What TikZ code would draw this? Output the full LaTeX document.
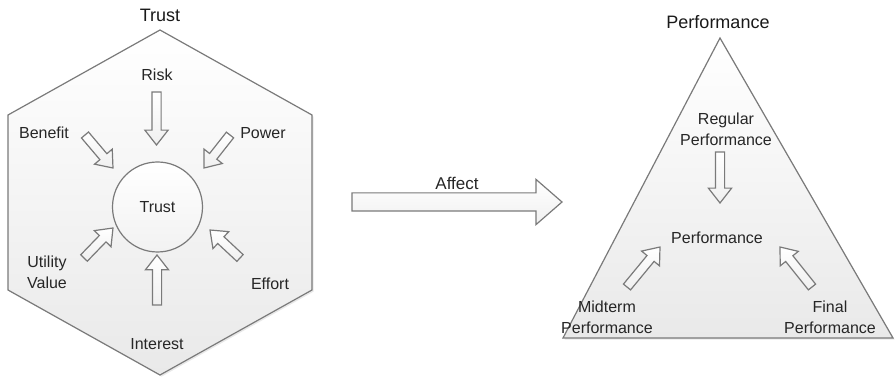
\documentclass[tikz,border=0pt]{standalone}
\usepackage{fontspec}
\setmainfont{Liberation Sans}
\usetikzlibrary{shapes.arrows, calc, shadows}
\definecolor{cline}{HTML}{7A7A7A}
\definecolor{cfill}{HTML}{E9E9E9}
\tikzset{
  every picture/.style={line width=0.6pt},
  panel/.style={draw=cline, top color=white, bottom color=cfill, drop shadow={opacity=0.18, shadow xshift=0.8pt, shadow yshift=-0.8pt}},
  txt/.style={font=\fontsize{8}{10.5}\selectfont, align=center, text=black!85},
  heading/.style={font=\fontsize{9}{11}\selectfont, text=black!90},
  fatarrow/.style={single arrow, draw=cline, top color=white, bottom color=cfill!70, inner xsep=0pt, inner ysep=2pt, outer sep=0pt, single arrow head extend=3.5pt, single arrow tip angle=76},
  bigarrow/.style={fatarrow, inner ysep=4.25pt, single arrow head extend=6.75pt, single arrow tip angle=82},
  push/.style={to path={let \p1=($(\tikztotarget)-(\tikztostart)$), \n1={atan2(\y1,\x1)}, \n2={veclen(\x1,\y1)} in node[fatarrow, #1, anchor=tail, rotate=\n1, minimum height=\n2] at (\tikztostart) {}}},
  push/.default={},
}
\begin{document}
\begin{tikzpicture}[x=0.5pt, y=-0.5pt]
  \useasboundingbox (0,0) rectangle (895,379);
  % trust side
  \draw[panel] (8,115) -- (160,30) -- (312,115) -- (312,290) -- (160,375) -- (8,290) -- cycle;
  \node[heading] (trusttitle) at (160,15) {Trust};
  \node[circle, draw=cline, top color=white, bottom color=cfill!60, minimum size=45pt, txt] (trust) at (157.5,207) {Trust};
  \node[txt] (risk) at (157,75) {Risk};
  \node[txt] (benefit) at (44,133) {Benefit};
  \node[txt] (power) at (263,133) {Power};
  \node[txt] (utility) at (47,272) {Utility\\Value};
  \node[txt] (effort) at (270,284) {Effort};
  \node[txt] (interest) at (157,344) {Interest};
  \coordinate (riskA) at (156.5,92);   \coordinate (riskB) at (156.5,145);
  \coordinate (interestA) at (157,305); \coordinate (interestB) at (157,255);
  \coordinate (benefitA) at (85,135);  \coordinate (benefitB) at (113,168);
  \coordinate (powerA) at (230,135);   \coordinate (powerB) at (204,168);
  \coordinate (utilityA) at (84,258);  \coordinate (utilityB) at (113,228);
  \coordinate (effortA) at (240,258);  \coordinate (effortB) at (210,230);
  \path (riskA) edge[push] (riskB)
        (interestA) edge[push] (interestB)
        (benefitA) edge[push] (benefitB)
        (powerA) edge[push] (powerB)
        (utilityA) edge[push] (utilityB)
        (effortA) edge[push] (effortB);
  % affect
  \node[txt, font=\fontsize{8.5}{10}\selectfont] (affect) at (457,183) {Affect};
  \coordinate (affectA) at (352,202); \coordinate (affectB) at (562,202);
  \path (affectA) edge[push=bigarrow] (affectB);
  % performance side
  \draw[panel] (563,338) -- (720,38) -- (893,338) -- cycle;
  \node[heading] (perftitle) at (718,22) {Performance};
  \node[txt] (perf) at (717,238) {Performance};
  \node[txt] (regular) at (726,129) {Regular\\Performance};
  \node[txt] (midterm) at (607,317) {Midterm\\Performance};
  \node[txt] (final) at (830,317) {Final\\Performance};
  \coordinate (regularA) at (720,152); \coordinate (regularB) at (720,203);
  \coordinate (midtermA) at (627,287); \coordinate (midtermB) at (660,247);
  \coordinate (finalA) at (812,287);   \coordinate (finalB) at (780,247);
  \path (regularA) edge[push] (regularB)
        (midtermA) edge[push] (midtermB)
        (finalA) edge[push] (finalB);
\end{tikzpicture}
\end{document}
